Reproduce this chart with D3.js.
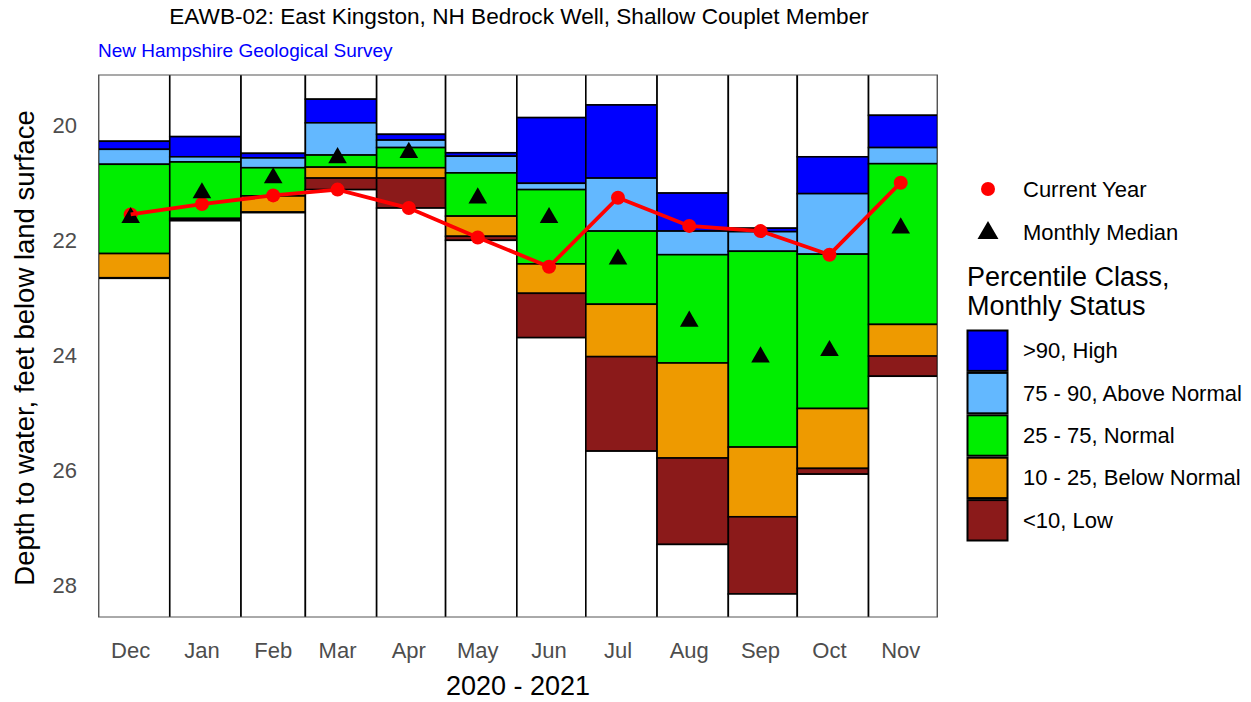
<!DOCTYPE html>
<html><head><meta charset="utf-8">
<script src="https://cdn.jsdelivr.net/npm/d3@7"></script>
<style>body{margin:0;background:#fff}svg{display:block;font-family:"Liberation Sans",Arial,sans-serif}</style>
</head><body>
<svg id="c" width="1251" height="702"></svg>
<script>
const months = ["Dec","Jan","Feb","Mar","Apr","May","Jun","Jul","Aug","Sep","Oct","Nov"];
const monthStarts = ["2020-12-01","2021-01-01","2021-02-01","2021-03-01","2021-04-01","2021-05-01","2021-06-01","2021-07-01","2021-08-01","2021-09-01","2021-10-01","2021-11-01","2021-12-01"];
// percentile boundaries, depth to water (ft)
const p100 = [20.28,20.20,20.49,19.55,20.16,20.48,19.87,19.65,21.18,21.79,20.55,19.83];
const p90  = [20.42,20.55,20.57,19.96,20.26,20.54,21.01,20.92,21.84,21.85,21.19,20.39];
const p75  = [20.68,20.64,20.74,20.52,20.39,20.83,21.12,21.84,22.25,22.19,22.24,20.67];
const p25  = [22.23,21.62,21.23,20.73,20.74,21.58,22.41,23.11,24.13,25.59,24.92,23.46];
const p10  = [22.65,21.64,21.51,20.92,20.92,21.93,22.92,24.02,25.78,26.80,25.96,24.01];
const p0   = [22.66,21.66,21.52,21.12,21.44,22.00,23.69,25.66,27.28,28.14,26.06,24.36];
const currentYear = [21.55,21.37,21.22,21.12,21.44,21.95,22.46,21.26,21.75,21.84,22.25,21.00];
const monthlyMedian = [21.59,21.16,20.90,20.55,20.46,21.25,21.59,22.31,23.39,24.01,23.90,21.77];
const yTicks = [20,22,24,26,28];
const classNames = [">90, High","75 - 90, Above Normal","25 - 75, Normal","10 - 25, Below Normal","<10, Low"];
const classColors = ["#0000FF","#63B8FF","#00EE00","#EE9A00","#8B1A1A"];

const svg = d3.select("#c");
const L=98.5, R=937.5, T=75, B=617;
const parse = d3.utcParse("%Y-%m-%d");
const starts = monthStarts.map(parse);
const x = d3.scaleUtc().domain([starts[0], starts[12]]).range([L,R]);
const y = d3.scaleLinear().domain([19.13,28.54]).range([T,B]);
const mid = i => d3.utcDay.offset(starts[i],14);

svg.append("clipPath").attr("id","clip").append("rect").attr("x",L).attr("y",T).attr("width",R-L).attr("height",B-T);
const g = svg.append("g").attr("clip-path","url(#clip)");

months.forEach((m,i)=>{
  const bounds = [18.5,p100[i],p90[i],p75[i],p25[i],p10[i],p0[i],29.5];
  const fills = ["#FFFFFF"].concat(classColors,["#FFFFFF"]);
  for(let k=0;k<7;k++){
    g.append("rect")
      .attr("x",x(starts[i])).attr("width",x(starts[i+1])-x(starts[i]))
      .attr("y",y(bounds[k])).attr("height",Math.max(0,y(bounds[k+1])-y(bounds[k])))
      .attr("fill",fills[k]).attr("stroke","#000").attr("stroke-width",1.6);
  }
});
// current year dots
g.selectAll("circle.cur").data(currentYear).join("circle")
  .attr("cx",(d,i)=>x(mid(i))).attr("cy",d=>y(d)).attr("r",7).attr("fill","#FF0000");
// medians
const tri = d3.symbol().type(d3.symbolTriangle).size(150);
g.selectAll("path.med").data(monthlyMedian).join("path")
  .attr("d",tri).attr("transform",(d,i)=>`translate(${x(mid(i))},${y(d)+1})`).attr("fill","#000");
// current year line
const line = d3.line().x((d,i)=>x(mid(i))).y(d=>y(d));
g.append("path").datum(currentYear).attr("d",line).attr("fill","none").attr("stroke","#FF0000").attr("stroke-width",3.8);

// panel border
svg.append("rect").attr("x",L).attr("y",T).attr("width",R-L).attr("height",B-T).attr("fill","none").attr("stroke","#555").attr("stroke-width",1);

// y axis
const ya = svg.append("g");
ya.selectAll("text").data(yTicks).join("text")
  .attr("x",77).attr("y",d=>y(d)).attr("text-anchor","end").attr("dominant-baseline","central")
  .attr("fill","#4D4D4D").attr("font-size",22).text(d=>d);
// x axis
svg.append("g").selectAll("text").data(months).join("text")
  .attr("x",(d,i)=>x(mid(i))).attr("y",650).attr("text-anchor","middle").attr("dominant-baseline","central")
  .attr("fill","#4D4D4D").attr("font-size",22).text(d=>d);

svg.append("text").attr("x",(L+R)/2).attr("y",686).attr("text-anchor","middle").attr("dominant-baseline","central")
  .attr("font-size",27).attr("fill","#000").text("2020 - 2021");
svg.append("text").attr("transform",`translate(34,${(T+B)/2 + 2}) rotate(-90)`).attr("text-anchor","middle")
  .attr("font-size",27.5).attr("fill","#000").text("Depth to water, feet below land surface");

svg.append("text").attr("x",519).attr("y",24).attr("text-anchor","middle").attr("font-size",22.6).attr("fill","#000")
  .text("EAWB-02: East Kingston, NH Bedrock Well, Shallow Couplet Member");
svg.append("text").attr("x",98).attr("y",57).attr("font-size",19).attr("fill","#0000FF").text("New Hampshire Geological Survey");

// legend
const lg = svg.append("g");
lg.append("circle").attr("cx",988).attr("cy",189).attr("r",7).attr("fill","#FF0000");
lg.append("text").attr("x",1023).attr("y",197).attr("font-size",22).text("Current Year");
lg.append("path").attr("d",d3.symbol().type(d3.symbolTriangle).size(190)).attr("transform","translate(988,233)").attr("fill","#000");
lg.append("text").attr("x",1023).attr("y",240).attr("font-size",22).text("Monthly Median");
lg.append("text").attr("x",967).attr("y",286).attr("font-size",27).text("Percentile Class,");
lg.append("text").attr("x",967).attr("y",315).attr("font-size",27).text("Monthly Status");
const keyH = 42.4, keyTop = 329.5;
classNames.forEach((c,i)=>{
  lg.append("rect").attr("x",967.5).attr("y",keyTop+i*keyH+1).attr("width",40).attr("height",keyH-2)
    .attr("fill",classColors[i]).attr("stroke","#000").attr("stroke-width",2);
  lg.append("text").attr("x",1023).attr("y",keyTop+i*keyH+keyH/2).attr("dominant-baseline","central")
    .attr("font-size",22).text(c);
});
</script>
</body></html>
